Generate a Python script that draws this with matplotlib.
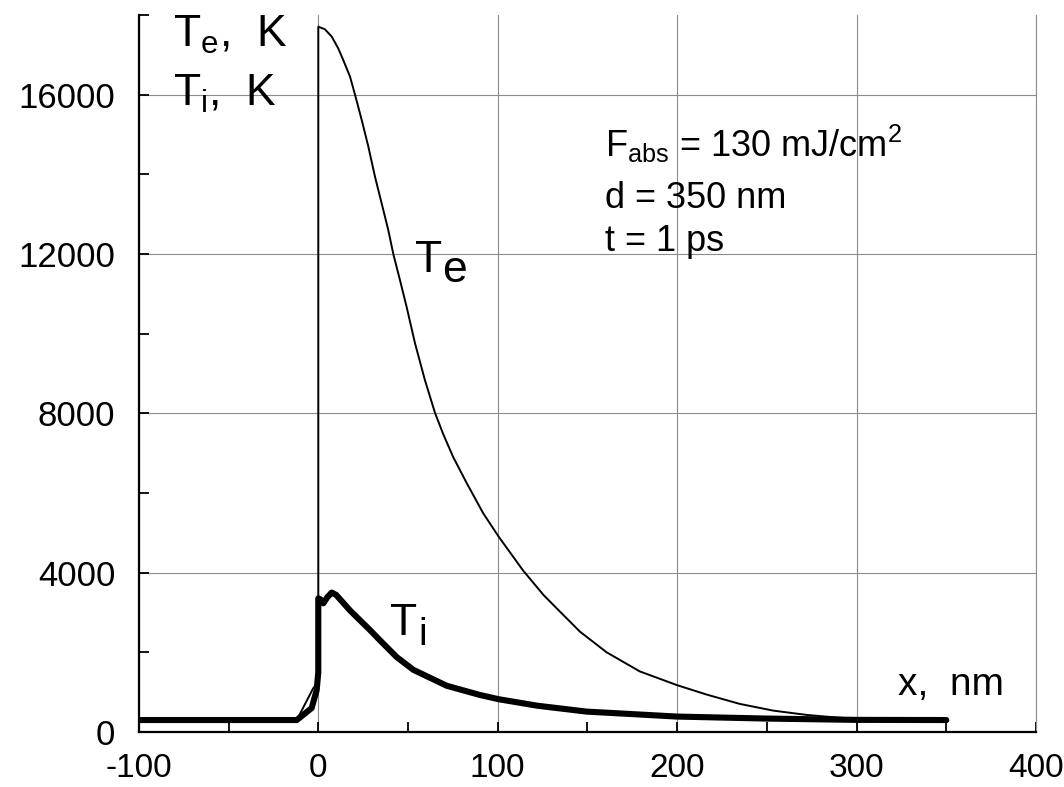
import matplotlib.pyplot as plt
from matplotlib.ticker import MultipleLocator

plt.rcParams['font.family'] = ['Liberation Sans', 'DejaVu Sans']
plt.rcParams['mathtext.fontset'] = 'custom'
plt.rcParams['mathtext.rm'] = 'Liberation Sans'
plt.rcParams['mathtext.it'] = 'Liberation Sans'
plt.rcParams['axes.unicode_minus'] = False

# electron temperature, K
x_te = [-100, -12, -2.8, 0, 0, 3.7, 7.5, 11.1, 13.9, 17.7, 20.4, 24.2, 27.9, 31.6,
        35.3, 39.0, 41.8, 45.5, 49.2, 53.9, 59.4, 65.0, 69.6, 75.2, 82.7, 91.9,
        100.5, 114.2, 125.5, 132.8, 145.8, 160.7, 179.2, 200, 216.4, 234.9, 253.5,
        272.1, 286.9, 300, 320, 350]
te = [300, 300, 1100, 1250, 17706, 17640, 17455, 17163, 16870, 16450, 16009, 15364,
      14694, 13940, 13273, 12603, 12000, 11348, 10677, 9759, 8838, 8017, 7480, 6900,
      6250, 5492, 4905, 4050, 3440, 3107, 2520, 2000, 1520, 1175, 940, 705, 537,
      429, 371, 330, 305, 300]

# ion temperature, K
x_ti = [-100, -12, -8.4, -3.7, -0.9, 0, 0, 1.2, 2.8, 5, 7.5, 10, 17.7, 28.8, 34.4,
        43.7, 53, 71.6, 90, 100.5, 122, 149.5, 200, 250, 300, 350]
ti = [300, 300, 430, 600, 1050, 1500, 3355, 3330, 3230, 3380, 3500, 3440, 3050, 2560,
      2300, 1880, 1560, 1160, 930, 823, 660, 512, 387, 337, 304, 300]

fig = plt.figure(figsize=(10.64, 7.87), dpi=100)
ax = fig.add_axes([0.1305, 0.0699, 0.8432, 0.9111])

ax.plot(x_te, te, color='black', lw=1.4, zorder=3)
ax.plot(x_ti, ti, color='black', lw=4.4, solid_capstyle='round',
        solid_joinstyle='round', zorder=4)

ax.set_xlim(-100, 400)
ax.set_ylim(0, 18000)
ax.xaxis.set_major_locator(MultipleLocator(100))
ax.xaxis.set_minor_locator(MultipleLocator(50))
ax.yaxis.set_major_locator(MultipleLocator(4000))
ax.yaxis.set_minor_locator(MultipleLocator(2000))
ax.grid(True, which='major', color='#8c8c8c', lw=0.8, zorder=1)
ax.set_axisbelow(True)

ax.tick_params(axis='both', which='both', direction='in', length=7, width=1.3,
               color='black', labelsize=25)
ax.tick_params(axis='y', which='both', pad=17, right=False)
ax.tick_params(axis='x', which='both', pad=15, top=False, labelsize=24)

ax.spines['top'].set_visible(False)
ax.spines['right'].set_color('#8c8c8c')
ax.spines['right'].set_linewidth(0.8)
ax.spines['left'].set_linewidth(1.6)
ax.spines['bottom'].set_linewidth(1.6)

ax.text(-81, 17200, r'T$_\mathregular{e}$,  K', fontsize=32, va='baseline')
ax.text(-81, 15710, r'T$_\mathregular{i}$,  K', fontsize=32, va='baseline')

ax.text(159.7, 14440, r'F$_\mathregular{abs}$ = 130 mJ/cm$^\mathregular{2}$', fontsize=26, va='baseline')
ax.text(159.7, 13145, 'd = 350 nm', fontsize=26, va='baseline')
ax.text(159.7, 12080, 't = 1 ps', fontsize=26, va='baseline')

# curve labels: big subscripts, drawn as two pieces
ax.text(53.9, 11550, 'T', fontsize=32, va='baseline')
ax.annotate('e', xy=(53.9, 11550), xytext=(19.5, -7.5), textcoords='offset points',
            fontsize=32, va='baseline')
ax.text(39.9, 2437, 'T', fontsize=32, va='baseline')
ax.annotate('i', xy=(39.9, 2437), xytext=(20.5, -7.5), textcoords='offset points',
            fontsize=28, va='baseline')

ax.text(323, 928, 'x,  nm', fontsize=28, va='baseline')

fig.savefig('out.png', dpi=100)
